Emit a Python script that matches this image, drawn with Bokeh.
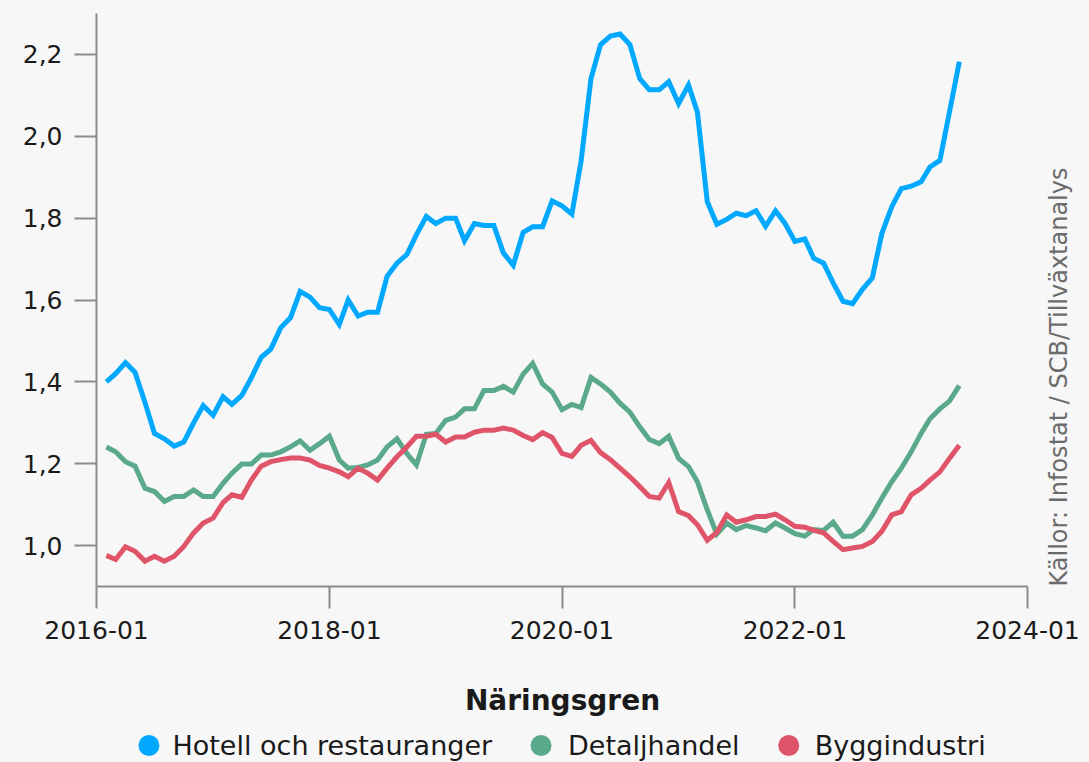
import math
import pandas as pd
from datetime import datetime
from bokeh.plotting import figure
from bokeh.layouts import column
from bokeh.models import (Range1d, FixedTicker, DatetimeTickFormatter, CustomJSTickFormatter,
                          LinearAxis, ColumnDataSource)
from bokeh.core.properties import value
from bokeh.embed import file_html
from bokeh.resources import INLINE

# ---------------- data ----------------
months = pd.date_range("2016-02-01", periods=89, freq="MS")

hotell = [1.400, 1.420, 1.447, 1.423, 1.350, 1.274, 1.261, 1.243, 1.253, 1.300,
          1.342, 1.318, 1.364, 1.345, 1.367, 1.410, 1.460, 1.480, 1.532, 1.557,
          1.621, 1.607, 1.581, 1.577, 1.540, 1.600, 1.561, 1.570, 1.570, 1.658,
          1.690, 1.711, 1.759, 1.804, 1.787, 1.800, 1.800, 1.745, 1.787, 1.782,
          1.782, 1.715, 1.685, 1.765, 1.779, 1.779, 1.842, 1.830, 1.810, 1.940,
          2.141, 2.224, 2.245, 2.250, 2.224, 2.141, 2.114, 2.114, 2.133, 2.080,
          2.125, 2.059, 1.840, 1.785, 1.797, 1.812, 1.806, 1.818, 1.780, 1.818,
          1.787, 1.743, 1.749, 1.702, 1.690, 1.642, 1.597, 1.591, 1.626, 1.654,
          1.763, 1.828, 1.872, 1.878, 1.889, 1.925, 1.941, 2.059, 2.182]

detalj = [1.241, 1.229, 1.205, 1.194, 1.140, 1.132, 1.108, 1.120, 1.120, 1.136,
          1.120, 1.120, 1.152, 1.177, 1.199, 1.199, 1.221, 1.221, 1.229, 1.241,
          1.256, 1.233, 1.249, 1.267, 1.209, 1.189, 1.191, 1.197, 1.209, 1.241,
          1.261, 1.225, 1.197, 1.272, 1.274, 1.306, 1.314, 1.334, 1.334, 1.379,
          1.379, 1.389, 1.375, 1.419, 1.445, 1.395, 1.375, 1.332, 1.345, 1.337,
          1.411, 1.395, 1.375, 1.348, 1.326, 1.290, 1.259, 1.249, 1.267, 1.213,
          1.193, 1.156, 1.087, 1.028, 1.055, 1.039, 1.049, 1.043, 1.036, 1.055,
          1.043, 1.029, 1.023, 1.039, 1.037, 1.057, 1.023, 1.023, 1.039, 1.075,
          1.116, 1.156, 1.189, 1.229, 1.274, 1.310, 1.334, 1.353, 1.391]

bygg = [0.976, 0.966, 0.997, 0.986, 0.962, 0.974, 0.962, 0.974, 0.998, 1.031,
        1.055, 1.067, 1.105, 1.124, 1.118, 1.160, 1.194, 1.205, 1.210, 1.214,
        1.214, 1.209, 1.196, 1.189, 1.180, 1.168, 1.189, 1.177, 1.160, 1.189,
        1.217, 1.241, 1.267, 1.267, 1.272, 1.253, 1.265, 1.265, 1.277, 1.282,
        1.282, 1.287, 1.282, 1.269, 1.259, 1.276, 1.264, 1.225, 1.218, 1.245,
        1.257, 1.227, 1.210, 1.189, 1.168, 1.144, 1.120, 1.116, 1.154, 1.083,
        1.073, 1.051, 1.013, 1.032, 1.075, 1.057, 1.063, 1.071, 1.071, 1.077,
        1.063, 1.047, 1.045, 1.037, 1.031, 1.010, 0.990, 0.994, 0.998, 1.010,
        1.035, 1.075, 1.083, 1.124, 1.140, 1.160, 1.180, 1.213, 1.245]

series_names = ["Hotell och restauranger", "Detaljhandel", "Byggindustri"]
series_colors = ["#00A9FF", "#5AA98A", "#E0546A"]
x_tick_dates = ["2016-01-01", "2018-01-01", "2020-01-01", "2022-01-01", "2024-01-01"]
y_ticks = [1.0, 1.2, 1.4, 1.6, 1.8, 2.0, 2.2]

legend_title = "Näringsgren"
source_text = "Källor: Infostat / SCB/Tillväxtanalys"

# ---------------- styling / layout constants ----------------
FONT = "DejaVu Sans"
BG = "#F7F7F7"
AX = "#8C8C8C"
TXT = "#1A1A1A"
W, H = 1089, 762
H_MAIN = 665
H_LEG = H - H_MAIN
FRAME_L, FRAME_R = 96, 1028

# ---------------- main chart ----------------
p = figure(width=W, height=H_MAIN, x_axis_type="datetime",
           output_backend="svg", toolbar_location=None,
           x_range=Range1d(datetime(2016, 1, 1), datetime(2024, 1, 1)),
           y_range=Range1d(0.9, 2.3),
           min_border_left=FRAME_L, min_border_right=W - FRAME_R, min_border_top=13,
           min_border_bottom=H_MAIN - 586)
p.background_fill_color = BG
p.border_fill_color = BG
p.outline_line_color = None
p.grid.visible = False

src = ColumnDataSource(dict(x=months, h=hotell, d=detalj, b=bygg))
for col, c in zip(["h", "d", "b"], series_colors):
    p.line("x", col, source=src, line_color=c, line_width=5, line_join="miter")

for ax in (p.xaxis[0], p.yaxis[0]):
    ax.axis_line_color = AX
    ax.axis_line_width = 2
    ax.major_tick_line_color = AX
    ax.major_tick_line_width = 2
    ax.major_tick_out = 22
    ax.major_tick_in = 0
    ax.minor_tick_line_color = None
    ax.major_label_text_font = FONT
    ax.major_label_text_font_size = "25px"
    ax.major_label_text_color = TXT

p.xaxis[0].ticker = FixedTicker(ticks=[pd.Timestamp(d).value // 10**6 for d in x_tick_dates])
fmt = "%Y-%m"
p.xaxis[0].formatter = DatetimeTickFormatter(years=fmt, months=fmt, days=fmt, hours=fmt,
                                             hourmin=fmt, minutes=fmt, minsec=fmt, seconds=fmt,
                                             milliseconds=fmt, microseconds=fmt)
p.xaxis[0].major_label_standoff = 12
p.yaxis[0].ticker = FixedTicker(ticks=y_ticks)
p.yaxis[0].formatter = CustomJSTickFormatter(code="return tick.toFixed(1).replace('.', ',');")
p.yaxis[0].major_label_standoff = 12

# source text on the right, reading bottom-to-top
src_axis = LinearAxis(ticker=FixedTicker(ticks=[]), axis_line_color=None,
                      major_tick_line_color=None, minor_tick_line_color=None,
                      major_label_text_font_size="0px",
                      axis_label=source_text, axis_label_text_font=FONT,
                      axis_label_text_font_size="24px", axis_label_text_font_style="normal",
                      axis_label_text_color="#6B6B6B", axis_label_standoff=31,
                      axis_label_orientation=math.pi / 2, axis_label_align="start")
p.add_layout(src_axis, "right")

# ---------------- legend strip (frame aligned with the chart above) ----------------
leg = figure(width=W, height=H_LEG, output_backend="svg", toolbar_location=None,
             x_range=Range1d(FRAME_L, FRAME_R), y_range=Range1d(H_LEG, 0),
             x_axis_location=None, y_axis_location=None,
             min_border_left=FRAME_L, min_border_right=W - FRAME_R,
             min_border_top=0, min_border_bottom=0)
leg.background_fill_color = BG
leg.border_fill_color = BG
leg.outline_line_color = None
leg.grid.visible = False

dot_x = [148.5, 541, 789]
label_x = [172, 568, 815]
row_y = 745 - H_MAIN
title_y = 700 - H_MAIN

leg.scatter(x=dot_x, y=[row_y] * 3, marker="circle", size=21,
            fill_color=series_colors, line_color=None)
leg.text(x=label_x, y=[row_y] * 3, text=series_names, text_font=value(FONT),
         text_font_size="27px", text_color=TXT, text_align="left", text_baseline="middle")
leg.text(x=[562.5], y=[title_y], text=[legend_title], text_font=value(FONT),
         text_font_size="28px", text_font_style="bold", text_color=TXT,
         text_align="center", text_baseline="middle")

layout = column(p, leg, spacing=0, styles={"background-color": BG})
open("out.html", "w").write(file_html(layout, INLINE))
